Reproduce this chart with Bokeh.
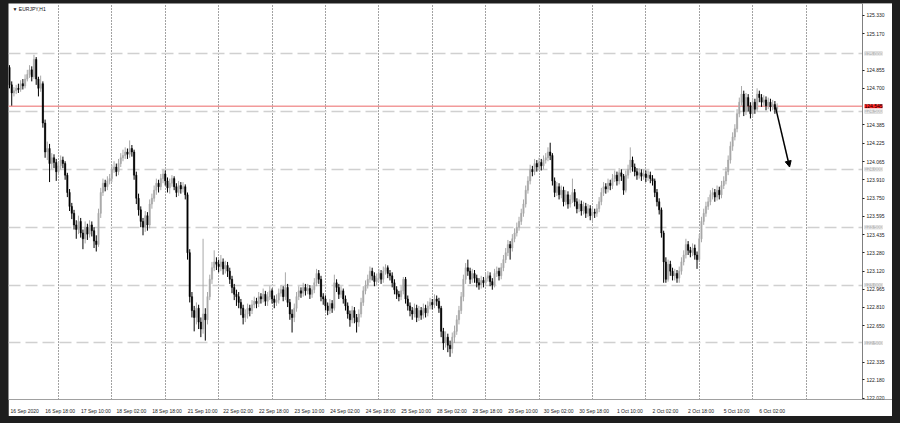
import numpy as np
from bokeh.plotting import figure
from bokeh.models import (ColumnDataSource, FixedTicker, PrintfTickFormatter, Range1d,
                          Span, Label, Arrow, NormalHead)
from bokeh.embed import file_html
from bokeh.resources import INLINE

symbol = "EURJPY,H1"

opens = [
    124.88, 124.73, 124.66, 124.68, 124.70, 124.69, 124.74, 124.72, 124.78, 124.82,
    124.86, 124.80, 124.95, 124.78, 124.70, 124.74, 124.40, 124.15, 124.18, 124.05,
    124.10, 124.06, 123.98, 124.03, 124.08, 124.05, 123.95, 123.80, 123.68, 123.62,
    123.52, 123.48, 123.55, 123.45, 123.40, 123.50, 123.44, 123.52, 123.47, 123.38,
    123.35, 123.62, 123.80, 123.88, 123.85, 123.90, 123.92, 124.00, 124.02, 123.98,
    124.05, 124.10, 124.12, 124.15, 124.13, 124.18, 124.15, 123.95, 123.75, 123.65,
    123.55, 123.50, 123.60, 123.52, 123.70, 123.75, 123.82, 123.88, 123.85, 123.92,
    123.96, 123.90, 123.84, 123.88, 123.92, 123.85, 123.80, 123.86, 123.83, 123.85,
    123.78, 123.28, 122.90, 122.78, 122.72, 122.80, 122.68, 122.62, 122.75, 122.70,
    122.90, 123.05, 123.15, 123.20, 123.18, 123.16, 123.20, 123.14, 123.17, 123.12,
    123.05, 122.98, 122.92, 122.90, 122.85, 122.80, 122.72, 122.75, 122.80, 122.78,
    122.83, 122.86, 122.84, 122.90, 122.88, 122.92, 122.86, 122.90, 122.95, 122.88,
    122.85, 122.87, 122.93, 122.96, 122.90, 122.98, 122.85, 122.75, 122.72, 122.80,
    122.90, 122.95, 122.93, 122.98, 122.95, 122.97, 122.92, 122.96, 123.02, 123.10,
    123.05, 122.90, 122.88, 122.82, 122.78, 122.84, 122.80, 123.02, 122.98, 122.92,
    122.95, 122.88, 122.82, 122.75, 122.70, 122.78, 122.72, 122.68, 122.75, 122.85,
    122.95, 123.00, 123.05, 123.12, 123.08, 123.03, 123.06, 123.10, 123.05, 123.12,
    123.15, 123.10, 123.08, 123.02, 122.96, 122.92, 122.90, 122.95, 123.05, 122.88,
    122.82, 122.78, 122.75, 122.80, 122.72, 122.78, 122.74, 122.80, 122.76, 122.82,
    122.85, 122.83, 122.88, 122.86, 122.80, 122.60, 122.50, 122.55, 122.48, 122.45,
    122.55, 122.60, 122.70, 122.78, 122.90, 123.05, 123.15, 123.12, 123.05, 123.10,
    123.06, 123.02, 123.00, 123.04, 123.02, 123.06, 123.08, 123.03, 123.00, 123.10,
    123.12, 123.08, 123.15, 123.22, 123.28, 123.35, 123.32, 123.40, 123.45, 123.50,
    123.55, 123.62, 123.70, 123.82, 123.90, 124.00, 123.98, 124.05, 124.02, 124.06,
    124.03, 124.08, 124.10, 124.15, 124.12, 123.90, 123.80, 123.85, 123.78, 123.82,
    123.72, 123.78, 123.70, 123.74, 123.80, 123.72, 123.66, 123.70, 123.64, 123.68,
    123.62, 123.66, 123.60, 123.63, 123.62, 123.66, 123.72, 123.80, 123.85, 123.83,
    123.88, 123.86, 123.92, 123.95, 123.90, 123.97, 123.94, 123.82, 123.95, 124.00,
    124.08, 124.02, 123.98, 123.95, 123.97, 123.94, 123.96, 123.93, 123.95, 123.92,
    123.90, 123.80, 123.72, 123.65, 123.45, 123.20, 123.05, 123.18, 123.12, 123.08,
    123.10, 123.06, 123.12, 123.20, 123.26, 123.35, 123.30, 123.28, 123.32, 123.26,
    123.22, 123.40, 123.55, 123.62, 123.68, 123.72, 123.78, 123.80, 123.76, 123.82,
    123.78, 123.86, 123.90, 123.98, 124.08, 124.20, 124.28, 124.35, 124.48, 124.58,
    124.65, 124.50, 124.62, 124.55, 124.48, 124.58, 124.52, 124.65, 124.62, 124.58,
    124.60, 124.55, 124.58, 124.54, 124.56, 124.52,
]

highs = [
    124.90, 124.76, 124.71, 124.73, 124.74, 124.77, 124.78, 124.82, 124.86, 124.90,
    124.89, 124.99, 124.97, 124.80, 124.81, 124.76, 124.43, 124.24, 124.22, 124.14,
    124.13, 124.09, 124.06, 124.12, 124.11, 124.07, 123.97, 123.83, 123.71, 123.65,
    123.56, 123.60, 123.58, 123.48, 123.55, 123.53, 123.56, 123.55, 123.50, 123.43,
    123.66, 123.84, 123.92, 123.91, 123.94, 123.96, 124.04, 124.07, 124.05, 124.09,
    124.14, 124.17, 124.19, 124.18, 124.25, 124.21, 124.17, 123.98, 123.79, 123.68,
    123.58, 123.64, 123.63, 123.74, 123.79, 123.86, 123.92, 123.91, 123.96, 124.00,
    123.99, 123.93, 123.92, 123.95, 123.94, 123.88, 123.90, 123.89, 123.89, 123.87,
    123.80, 123.31, 122.94, 122.82, 122.85, 122.83, 122.72, 123.40, 122.80, 122.94,
    123.09, 123.20, 123.30, 123.24, 123.22, 123.26, 123.23, 123.21, 123.20, 123.15,
    123.08, 123.01, 122.96, 122.94, 122.88, 122.83, 122.79, 122.84, 122.83, 122.87,
    122.90, 122.89, 122.94, 122.93, 122.97, 122.95, 122.94, 122.99, 122.97, 122.91,
    122.92, 122.97, 123.00, 122.99, 123.11, 123.01, 122.88, 122.79, 122.84, 122.94,
    122.99, 122.98, 123.02, 123.01, 123.01, 123.00, 123.00, 123.06, 123.14, 123.13,
    123.08, 122.93, 122.91, 122.85, 122.88, 122.87, 123.09, 123.05, 123.01, 122.99,
    122.97, 122.91, 122.85, 122.78, 122.82, 122.81, 122.75, 122.79, 122.89, 122.99,
    123.04, 123.09, 123.16, 123.15, 123.11, 123.10, 123.14, 123.13, 123.16, 123.18,
    123.17, 123.13, 123.11, 123.05, 122.99, 122.95, 122.99, 123.07, 123.07, 122.91,
    122.85, 122.81, 122.84, 122.83, 122.82, 122.81, 122.84, 122.83, 122.86, 122.89,
    122.88, 122.92, 122.91, 122.89, 122.82, 122.63, 122.60, 122.58, 122.52, 122.59,
    122.65, 122.74, 122.82, 122.94, 123.09, 123.19, 123.22, 123.15, 123.14, 123.13,
    123.09, 123.06, 123.08, 123.07, 123.10, 123.12, 123.11, 123.06, 123.14, 123.16,
    123.15, 123.19, 123.26, 123.32, 123.39, 123.38, 123.44, 123.49, 123.54, 123.59,
    123.66, 123.74, 123.86, 123.94, 124.04, 124.03, 124.09, 124.08, 124.10, 124.09,
    124.12, 124.14, 124.19, 124.23, 124.14, 123.93, 123.89, 123.88, 123.86, 123.85,
    123.82, 123.81, 123.78, 123.92, 123.83, 123.75, 123.74, 123.73, 123.72, 123.71,
    123.70, 123.69, 123.67, 123.66, 123.70, 123.76, 123.84, 123.89, 123.88, 123.92,
    123.91, 123.96, 123.99, 123.98, 124.01, 124.00, 123.96, 123.99, 124.04, 124.19,
    124.11, 124.05, 124.01, 124.01, 124.00, 124.00, 123.99, 123.99, 123.98, 123.95,
    123.92, 123.83, 123.75, 123.67, 123.47, 123.24, 123.22, 123.21, 123.15, 123.14,
    123.13, 123.16, 123.24, 123.30, 123.40, 123.38, 123.33, 123.36, 123.35, 123.29,
    123.44, 123.59, 123.66, 123.72, 123.76, 123.82, 123.84, 123.83, 123.86, 123.85,
    123.90, 123.94, 124.02, 124.12, 124.24, 124.32, 124.39, 124.52, 124.62, 124.72,
    124.68, 124.66, 124.65, 124.58, 124.62, 124.61, 124.70, 124.68, 124.65, 124.64,
    124.63, 124.62, 124.61, 124.60, 124.59, 124.57,
]

lows = [
    124.70, 124.55, 124.63, 124.65, 124.66, 124.67, 124.69, 124.70, 124.76, 124.79,
    124.76, 124.78, 124.73, 124.63, 124.67, 124.36, 124.10, 124.08, 123.89, 124.00,
    124.01, 123.90, 123.95, 124.00, 124.01, 123.91, 123.76, 123.64, 123.57, 123.48,
    123.40, 123.44, 123.41, 123.31, 123.36, 123.39, 123.41, 123.42, 123.32, 123.29,
    123.33, 123.58, 123.77, 123.81, 123.82, 123.87, 123.89, 123.97, 123.94, 123.95,
    124.02, 124.07, 124.09, 124.09, 124.10, 124.11, 123.91, 123.70, 123.60, 123.50,
    123.43, 123.46, 123.47, 123.49, 123.66, 123.72, 123.78, 123.80, 123.82, 123.88,
    123.86, 123.80, 123.79, 123.85, 123.82, 123.76, 123.77, 123.79, 123.80, 123.74,
    123.22, 122.85, 122.72, 122.60, 122.66, 122.62, 122.55, 122.58, 122.52, 122.66,
    122.87, 123.01, 123.12, 123.13, 123.11, 123.12, 123.09, 123.10, 123.07, 123.01,
    122.93, 122.87, 122.82, 122.80, 122.74, 122.66, 122.68, 122.71, 122.73, 122.75,
    122.80, 122.80, 122.81, 122.84, 122.85, 122.82, 122.82, 122.87, 122.84, 122.80,
    122.82, 122.84, 122.90, 122.86, 122.87, 122.81, 122.70, 122.59, 122.68, 122.77,
    122.87, 122.89, 122.90, 122.91, 122.92, 122.88, 122.89, 122.93, 122.99, 123.01,
    122.86, 122.83, 122.78, 122.74, 122.75, 122.76, 122.78, 122.94, 122.88, 122.89,
    122.84, 122.78, 122.71, 122.64, 122.67, 122.67, 122.59, 122.64, 122.72, 122.82,
    122.92, 122.97, 123.02, 123.04, 122.99, 123.00, 123.03, 123.01, 123.02, 123.09,
    123.06, 123.04, 122.98, 122.92, 122.88, 122.86, 122.87, 122.92, 122.84, 122.78,
    122.73, 122.70, 122.72, 122.68, 122.69, 122.70, 122.71, 122.72, 122.73, 122.79,
    122.79, 122.80, 122.82, 122.76, 122.55, 122.44, 122.46, 122.42, 122.38, 122.41,
    122.50, 122.57, 122.66, 122.75, 122.86, 123.01, 123.08, 123.01, 123.02, 123.02,
    122.98, 122.96, 122.97, 122.98, 122.99, 123.03, 122.99, 122.96, 122.98, 123.07,
    123.04, 123.05, 123.12, 123.19, 123.25, 123.22, 123.29, 123.37, 123.42, 123.47,
    123.52, 123.59, 123.67, 123.79, 123.87, 123.94, 123.95, 123.98, 123.99, 123.99,
    124.00, 124.05, 124.07, 124.08, 123.86, 123.76, 123.77, 123.74, 123.75, 123.68,
    123.69, 123.66, 123.67, 123.71, 123.68, 123.62, 123.63, 123.60, 123.61, 123.58,
    123.59, 123.56, 123.54, 123.58, 123.59, 123.63, 123.69, 123.77, 123.79, 123.80,
    123.82, 123.83, 123.89, 123.86, 123.87, 123.90, 123.78, 123.80, 123.92, 123.97,
    123.98, 123.94, 123.91, 123.92, 123.90, 123.91, 123.89, 123.90, 123.88, 123.86,
    123.76, 123.68, 123.61, 123.41, 123.02, 123.02, 123.03, 123.08, 123.04, 123.04,
    123.02, 123.02, 123.09, 123.17, 123.23, 123.26, 123.24, 123.25, 123.22, 123.14,
    123.20, 123.37, 123.52, 123.59, 123.65, 123.69, 123.74, 123.72, 123.73, 123.74,
    123.75, 123.83, 123.87, 123.95, 124.05, 124.16, 124.25, 124.32, 124.45, 124.55,
    124.46, 124.47, 124.50, 124.44, 124.45, 124.48, 124.50, 124.58, 124.54, 124.55,
    124.51, 124.52, 124.50, 124.51, 124.48, 124.50,
]

closes = [
    124.73, 124.66, 124.68, 124.70, 124.69, 124.74, 124.72, 124.78, 124.82, 124.86,
    124.80, 124.95, 124.78, 124.70, 124.74, 124.40, 124.15, 124.18, 124.05, 124.10,
    124.06, 123.98, 124.03, 124.08, 124.05, 123.95, 123.80, 123.68, 123.62, 123.52,
    123.48, 123.55, 123.45, 123.40, 123.50, 123.44, 123.52, 123.47, 123.38, 123.35,
    123.62, 123.80, 123.88, 123.85, 123.90, 123.92, 124.00, 124.02, 123.98, 124.05,
    124.10, 124.12, 124.15, 124.13, 124.18, 124.15, 123.95, 123.75, 123.65, 123.55,
    123.50, 123.60, 123.52, 123.70, 123.75, 123.82, 123.88, 123.85, 123.92, 123.96,
    123.90, 123.84, 123.88, 123.92, 123.85, 123.80, 123.86, 123.83, 123.85, 123.78,
    123.28, 122.90, 122.78, 122.72, 122.80, 122.68, 122.62, 122.75, 122.70, 122.90,
    123.05, 123.15, 123.20, 123.18, 123.16, 123.20, 123.14, 123.17, 123.12, 123.05,
    122.98, 122.92, 122.90, 122.85, 122.80, 122.72, 122.75, 122.80, 122.78, 122.83,
    122.86, 122.84, 122.90, 122.88, 122.92, 122.86, 122.90, 122.95, 122.88, 122.85,
    122.87, 122.93, 122.96, 122.90, 122.98, 122.85, 122.75, 122.72, 122.80, 122.90,
    122.95, 122.93, 122.98, 122.95, 122.97, 122.92, 122.96, 123.02, 123.10, 123.05,
    122.90, 122.88, 122.82, 122.78, 122.84, 122.80, 123.02, 122.98, 122.92, 122.95,
    122.88, 122.82, 122.75, 122.70, 122.78, 122.72, 122.68, 122.75, 122.85, 122.95,
    123.00, 123.05, 123.12, 123.08, 123.03, 123.06, 123.10, 123.05, 123.12, 123.15,
    123.10, 123.08, 123.02, 122.96, 122.92, 122.90, 122.95, 123.05, 122.88, 122.82,
    122.78, 122.75, 122.80, 122.72, 122.78, 122.74, 122.80, 122.76, 122.82, 122.85,
    122.83, 122.88, 122.86, 122.80, 122.60, 122.50, 122.55, 122.48, 122.45, 122.55,
    122.60, 122.70, 122.78, 122.90, 123.05, 123.15, 123.12, 123.05, 123.10, 123.06,
    123.02, 123.00, 123.04, 123.02, 123.06, 123.08, 123.03, 123.00, 123.10, 123.12,
    123.08, 123.15, 123.22, 123.28, 123.35, 123.32, 123.40, 123.45, 123.50, 123.55,
    123.62, 123.70, 123.82, 123.90, 124.00, 123.98, 124.05, 124.02, 124.06, 124.03,
    124.08, 124.10, 124.15, 124.12, 123.90, 123.80, 123.85, 123.78, 123.82, 123.72,
    123.78, 123.70, 123.74, 123.80, 123.72, 123.66, 123.70, 123.64, 123.68, 123.62,
    123.66, 123.60, 123.63, 123.62, 123.66, 123.72, 123.80, 123.85, 123.83, 123.88,
    123.86, 123.92, 123.95, 123.90, 123.97, 123.94, 123.82, 123.95, 124.00, 124.08,
    124.02, 123.98, 123.95, 123.97, 123.94, 123.96, 123.93, 123.95, 123.92, 123.90,
    123.80, 123.72, 123.65, 123.45, 123.20, 123.05, 123.18, 123.12, 123.08, 123.10,
    123.06, 123.12, 123.20, 123.26, 123.35, 123.30, 123.28, 123.32, 123.26, 123.22,
    123.40, 123.55, 123.62, 123.68, 123.72, 123.78, 123.80, 123.76, 123.82, 123.78,
    123.86, 123.90, 123.98, 124.08, 124.20, 124.28, 124.35, 124.48, 124.58, 124.65,
    124.50, 124.62, 124.55, 124.48, 124.58, 124.52, 124.65, 124.62, 124.58, 124.60,
    124.55, 124.58, 124.54, 124.56, 124.52, 124.545,
]

time_labels = [
    "16 Sep 2020", "16 Sep 18:00", "17 Sep 10:00", "18 Sep 02:00", "18 Sep 18:00",
    "21 Sep 10:00", "22 Sep 02:00", "22 Sep 18:00", "23 Sep 10:00", "24 Sep 02:00",
    "24 Sep 18:00", "25 Sep 10:00", "28 Sep 02:00", "28 Sep 18:00", "29 Sep 10:00",
    "30 Sep 02:00", "30 Sep 18:00", "1 Oct 10:00", "2 Oct 02:00", "2 Oct 18:00",
    "5 Oct 10:00", "6 Oct 02:00",
]
label_bars = [0, 16, 32, 48, 64, 80, 96, 112, 128, 144, 160, 176, 192, 208, 224,
              240, 256, 272, 288, 304, 320, 336]
day_starts = [22, 46, 70, 94, 118, 142, 166, 190, 214, 238, 262, 286, 310, 334, 358]

price_ticks = [125.330, 125.170, 124.855, 124.700, 124.385, 124.225, 124.065, 123.910,
               123.750, 123.595, 123.435, 123.280, 123.120, 122.965, 122.810, 122.650,
               122.335, 122.180, 122.020]
round_levels = [125.0, 124.5, 124.0, 123.5, 123.0, 122.5]
current_price = 124.545

forecast_x = [344.3, 350.6]
forecast_y = [124.535, 124.02]

UP = "#a9a9a9"
DOWN = "#000000"
FONT = "Liberation Sans"
FS = "5px"

o = np.array(opens); h = np.array(highs); l = np.array(lows); c = np.array(closes)
idx = np.arange(len(c))
up = c >= o

def make_src(mask):
    return ColumnDataSource(dict(
        x=idx[mask], top=np.maximum(o, c)[mask], bottom=np.minimum(o, c)[mask],
        high=h[mask], low=l[mask]))

PX_PER_BAR = 2.225
PX_PER_YEN = 116.9
W, H = 889, 413
FRAME_H = 400
x_start = -0.45
x_end = x_start + W / PX_PER_BAR
scale_x = x_start + 854 / PX_PER_BAR      # price-scale line position
strip_x = x_start + 885 / PX_PER_BAR      # window edge strip
y_end = 125.433
y_start = y_end - FRAME_H / PX_PER_YEN
label_shift = 6.8                         # labels start at their bar, like MT4

p = figure(width=W, height=H, output_backend="svg", toolbar_location=None,
           x_range=Range1d(x_start, x_end), y_range=Range1d(y_start, y_end),
           y_axis_location="right", min_border_left=0, min_border_top=0,
           min_border_right=0, min_border_bottom=H - FRAME_H)
p.background_fill_color = "white"
p.border_fill_color = "white"
p.outline_line_color = None

# grids
p.ygrid.ticker = FixedTicker(ticks=round_levels)
p.ygrid.grid_line_color = "#d0d0d0"
p.ygrid.grid_line_dash = "12 5"
p.ygrid.grid_line_width = 1.5
p.xgrid.ticker = FixedTicker(ticks=day_starts)
p.xgrid.grid_line_color = "#444444"
p.xgrid.grid_line_dash = "1 2"
p.xgrid.grid_line_width = 1

p.add_layout(Span(location=current_price, dimension="width", line_color="#f29a9a",
                  line_width=1.5, level="underlay"))

for src, col in ((make_src(up), UP), (make_src(~up), DOWN)):
    p.segment(x0="x", y0="low", x1="x", y1="high", source=src, line_color=col, line_width=1)
    p.vbar(x="x", top="top", bottom="bottom", width=0.6, source=src,
           fill_color=col, line_color=col, line_width=0.5)

# price-scale panel (white) and window edge strip
p.quad(left=scale_x, right=x_end, bottom=y_start, top=y_end,
       fill_color="white", line_color=None)
p.quad(left=strip_x, right=x_end, bottom=y_start, top=y_end,
       fill_color="#7dbbe0", line_color=None)

p.add_layout(Arrow(end=NormalHead(size=6, fill_color="black", line_color="black"),
                   x_start=forecast_x[0], y_start=forecast_y[0],
                   x_end=forecast_x[1], y_end=forecast_y[1],
                   line_color="black", line_width=1.5))

# axes
p.xaxis.ticker = FixedTicker(ticks=[b + label_shift for b in label_bars])
p.xaxis.major_label_overrides = {b + label_shift: t for b, t in zip(label_bars, time_labels)}
p.xaxis.major_label_text_font = FONT
p.xaxis.major_label_text_font_size = FS
p.xaxis.major_label_text_color = "#222222"
p.xaxis.major_label_standoff = 2
p.xaxis.major_tick_line_color = None
p.xaxis.minor_tick_line_color = None
p.xaxis.axis_line_color = "#a0a0a0"

p.yaxis.fixed_location = scale_x
p.yaxis.ticker = FixedTicker(ticks=price_ticks)
p.yaxis.formatter = PrintfTickFormatter(format="%.3f")
p.yaxis.major_label_text_font = FONT
p.yaxis.major_label_text_font_size = FS
p.yaxis.major_label_text_color = "#222222"
p.yaxis.major_label_standoff = 2
p.yaxis.major_tick_in = 0
p.yaxis.major_tick_out = 2
p.yaxis.minor_tick_line_color = None
p.yaxis.axis_line_color = "#808080"
p.yaxis.major_tick_line_color = "#222222"

for lvl in round_levels:
    p.add_layout(Label(x=scale_x, y=lvl, x_offset=2, text=f"{lvl:.3f}",
                       text_font=FONT, text_font_size=FS, text_color="#f6f6f6",
                       text_baseline="middle", text_align="left",
                       background_fill_color="#c2c2c2"))

p.add_layout(Label(x=scale_x, y=current_price, x_offset=2, text=f"{current_price:.3f}",
                   text_font=FONT, text_font_size=FS, text_color="#000000",
                   text_baseline="middle", text_align="left",
                   background_fill_color="#ff2020"))

p.add_layout(Label(x=x_start, y=y_end, x_offset=4, y_offset=-5, text="\u25bc " + symbol,
                   text_font=FONT, text_font_size=FS, text_color="#111111",
                   text_baseline="middle", text_align="left"))

html = file_html(p, INLINE)
html = html.replace("</head>",
                    "<style>body{background:#1e1e1e;margin:3px 8px 8px 8px;}</style></head>", 1)
open("out.html", "w").write(html)
